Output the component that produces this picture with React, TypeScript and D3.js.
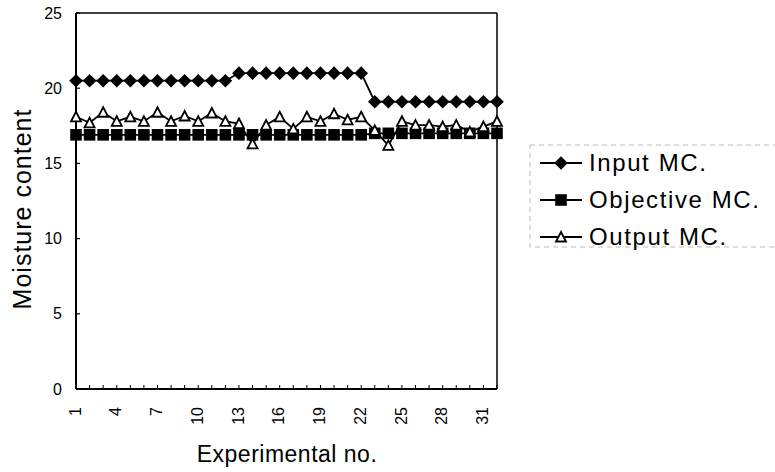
import React from "react";
import * as d3 from "d3";

const categories = [1,2,3,4,5,6,7,8,9,10,11,12,13,14,15,16,17,18,19,20,21,22,23,24,25,26,27,28,29,30,31,32];
const xTickLabels = [1,4,7,10,13,16,19,22,25,28,31];
const yTicks = [0,5,10,15,20,25];
const inputMC = [20.5,20.5,20.5,20.5,20.5,20.5,20.5,20.5,20.5,20.5,20.5,20.5,21.0,21.0,21.0,21.0,21.0,21.0,21.0,21.0,21.0,21.0,19.1,19.1,19.1,19.1,19.1,19.1,19.1,19.1,19.1,19.1];
const objectiveMC = [16.9,16.9,16.9,16.9,16.9,16.9,16.9,16.9,16.9,16.9,16.9,16.9,16.9,16.9,16.9,16.9,16.9,16.9,16.9,16.9,16.9,16.9,17.0,17.0,17.0,17.0,17.0,17.0,17.0,17.0,17.0,17.0];
const outputMC = [18.1,17.7,18.4,17.8,18.1,17.8,18.4,17.8,18.15,17.8,18.35,17.8,17.65,16.3,17.55,18.1,17.3,18.1,17.8,18.3,17.9,18.1,17.2,16.2,17.8,17.55,17.55,17.45,17.55,17.1,17.45,17.8];
const seriesNames = ["Input MC.", "Objective MC.", "Output MC."];

const FONT = "'Liberation Sans', Arial, Helvetica, sans-serif";

function Marker({ kind, x, y }: { kind: string; x: number; y: number }) {
  if (kind === "diamond") {
    const s = 6.8;
    return <path d={`M${x},${y - s}L${x + s},${y}L${x},${y + s}L${x - s},${y}Z`} fill="#000" />;
  }
  if (kind === "square") {
    const s = 5.8;
    return <rect x={x - s} y={y - s} width={2 * s} height={2 * s} fill="#000" />;
  }
  const w = 5, h = 9;
  return (
    <path
      d={`M${x},${y - h / 2 - 0.5}L${x + w},${y + h / 2}L${x - w},${y + h / 2}Z`}
      fill="#fff"
      stroke="#000"
      strokeWidth={1.8}
      strokeLinejoin="miter"
    />
  );
}

export default function App() {
  const left = 76, right = 497, top = 13, bottom = 389;
  const x = d3.scalePoint<number>().domain(categories).range([left, right]);
  const y = d3.scaleLinear().domain([0, 25]).range([bottom, top]);
  const line = d3
    .line<number>()
    .x((_, i) => x(categories[i]) as number)
    .y((d) => y(d));

  const series = [
    { name: seriesNames[0], values: inputMC, kind: "diamond" },
    { name: seriesNames[1], values: objectiveMC, kind: "square" },
    { name: seriesNames[2], values: outputMC, kind: "triangle" },
  ];

  const legendYs = [163, 200, 237];

  return (
    <svg
      width={775}
      height={472}
      style={{ position: "absolute", left: 0, top: 0, background: "#fff" }}
      fontFamily={FONT}
    >
      <rect x={0} y={0} width={775} height={472} fill="#fff" />
      {/* frame */}
      <line x1={left} y1={top} x2={right} y2={top} stroke="#000" strokeWidth={1.5} />
      <line x1={right} y1={top} x2={right} y2={bottom} stroke="#000" strokeWidth={1.5} />
      <line x1={left} y1={top} x2={left} y2={bottom} stroke="#000" strokeWidth={2} />
      <line x1={left} y1={bottom} x2={right} y2={bottom} stroke="#000" strokeWidth={2} />

      {/* y ticks */}
      {yTicks.map((t) => (
        <g key={"yt" + t}>
          <line x1={left} x2={left + 4} y1={y(t)} y2={y(t)} stroke="#000" strokeWidth={1.2} />
          <text x={62} y={y(t)} dy="0.35em" textAnchor="end" fontSize={16}>
            {t}
          </text>
        </g>
      ))}

      {/* x ticks */}
      {categories.map((c) => (
        <line
          key={"xt" + c}
          x1={x(c) as number}
          x2={x(c) as number}
          y1={bottom}
          y2={bottom - 4}
          stroke="#000"
          strokeWidth={1}
        />
      ))}
      {xTickLabels.map((c) => (
        <text
          key={"xl" + c}
          transform={`translate(${(x(c) as number) - 1},407) rotate(-90)`}
          dy="0.35em"
          textAnchor="end"
          fontSize={16}
        >
          {c}
        </text>
      ))}

      {/* series */}
      {series.map((s) => (
        <g key={s.name}>
          <path d={line(s.values) || ""} fill="none" stroke="#000" strokeWidth={1.8} />
          {s.values.map((v, i) => (
            <Marker key={i} kind={s.kind} x={x(categories[i]) as number} y={y(v)} />
          ))}
        </g>
      ))}

      {/* axis titles */}
      <text x={287} y={462} textAnchor="middle" fontSize={23} letterSpacing={0.5}>
        Experimental no.
      </text>
      <text
        transform={`translate(31,209) rotate(-90)`}
        textAnchor="middle"
        fontSize={25}
        letterSpacing={1}
      >
        Moisture content
      </text>

      {/* legend */}
      <rect
        x={530}
        y={145}
        width={260}
        height={102}
        fill="none"
        stroke="#aaa"
        strokeWidth={0.8}
        strokeDasharray="5,4"
      />
      {series.map((s, i) => (
        <g key={"lg" + s.name}>
          <line x1={540} x2={582} y1={legendYs[i]} y2={legendYs[i]} stroke="#000" strokeWidth={1.8} />
          <Marker kind={s.kind} x={561} y={legendYs[i]} />
          <text x={589} y={legendYs[i]} dy="0.35em" fontSize={24} letterSpacing={1.6}>
            {s.name}
          </text>
        </g>
      ))}
    </svg>
  );
}
